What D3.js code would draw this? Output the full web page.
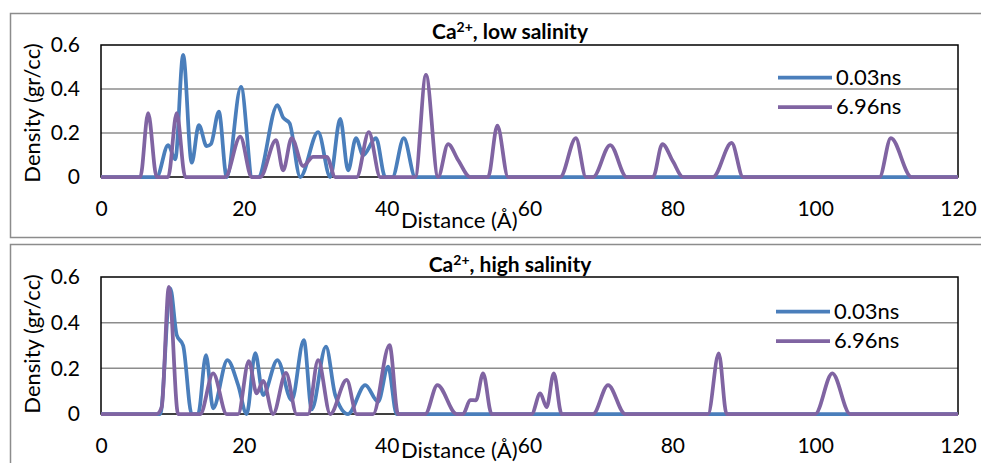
<!DOCTYPE html>
<html>
<head>
<meta charset="utf-8">
<script src="https://cdn.jsdelivr.net/npm/d3@7"></script>
<style>
  body { margin: 0; background: #fff; }
  svg { display: block; }
  text { font-family: Lato, "Open Sans", sans-serif; fill: #000; }
</style>
</head>
<body>
<svg id="chart" width="981" height="463"></svg>
<script>
// density profiles, [distance (A), density (gr/cc)]
var seriesNames = ["0.03ns", "6.96ns"];
var xTicks = [0, 20, 40, 60, 80, 100, 120];
var yTicks = [0, 0.2, 0.4, 0.6];

var lowEarly = [[0,0],[7.8,0],[9.4,0.145],[10.4,0.08],[11.5,0.555],[12.7,0.065],[13.7,0.236],[14.8,0.14],[15.4,0.15],
  [16.5,0.297],[17.6,0],[19.6,0.41],[21.2,0],[22.0,0],[24.7,0.327],[25.5,0.27],[26.4,0.245],[27.9,0],[30.4,0.204],
  [32.1,0],[33.5,0.264],[34.6,0.03],[35.7,0.177],[36.7,0.1],[38.5,0.177],[39.8,0],[40.8,0],[42.4,0.177],[44,0],[120,0]];

var lowLate = [[0,0],[5.5,0],[6.6,0.29],[7.8,0],[9.4,0],[10.6,0.29],[11.8,0],[17.4,0],[19.5,0.183],[21.1,0],[22.3,0],
  [24.5,0.168],[25.5,0.03],[26.7,0.177],[28.3,0.05],[29.7,0.092],[31.6,0.092],[32.8,0],[35.8,0],[37.5,0.204],[39.1,0],
  [44,0],[45.5,0.464],[47.2,0],[48.6,0.15],[50.0,0.077],[51.7,0],[54.2,0],[55.5,0.233],[57,0],[64.3,0],[66.5,0.177],
  [67.9,0],[68.9,0],[71.3,0.145],[73.6,0],[77.3,0],[78.6,0.15],[80.1,0.07],[81.5,0],[85.7,0],[88.3,0.155],[89.9,0],
  [109,0],[110.6,0.177],[113.5,0],[120,0]];

var highEarly = [[0,0],[8.3,0],[9.7,0.55],[10.6,0.346],[11.5,0.3],[12.7,0],[13.6,0],[14.7,0.258],[15.7,0.025],
  [17.7,0.236],[19.2,0.127],[20.4,0],[21.6,0.267],[22.7,0.083],[24.7,0.236],[26.7,0.06],[28.4,0.324],[29.5,0.02],
  [31.5,0.295],[32.8,0.083],[34.6,0],[37,0.127],[38.8,0.054],[40.2,0.207],[41.4,0],[120,0]];

var highLate = [[0,0],[7.8,0],[8.5,0.03],[9.5,0.557],[10.8,0],[13.9,0],[15.7,0.178],[17.6,0],[19.2,0],[20.7,0.232],
  [21.8,0.09],[22.7,0.145],[24.1,0],[25.9,0.18],[27.4,0],[29,0],[30.4,0.236],[32.1,0],[34.4,0.149],[35.8,0],[38.1,0],
  [40.4,0.302],[41.6,0],[45.4,0],[47.1,0.127],[49.8,0],[50.7,0],[51.7,0.061],[52.5,0.06],[53.5,0.178],[54.7,0],
  [60.3,0],[61.5,0.09],[62.4,0.03],[63.4,0.178],[64.5,0],[68.9,0],[71.0,0.127],[73.4,0],[85,0],[86.5,0.266],[87.6,0],
  [100,0],[102.4,0.178],[104.9,0],[120,0]];

var colors = ["#4a7ebb", "#8064a2"];

var svg = d3.select("#chart");

var panels = [
  {label: "low salinity", data: [lowEarly, lowLate], frameY: 13.5, frameH: 224, top: 45, bottom: 177, legendY: 77.5, legendX: 778, titleY: 39, xTitleY: 227.5, yTitleY: 113},
  {label: "high salinity", data: [highEarly, highLate], frameY: 244.5, frameH: 260, top: 277, bottom: 414, legendY: 311.5, legendX: 776, titleY: 272, xTitleY: 458, yTitleY: 344}
];

var left = 101, right = 958;

panels.forEach(function(p){
  var g = svg.append("g");

  g.append("rect")
    .attr("x", 10.5).attr("y", p.frameY)
    .attr("width", 1000).attr("height", p.frameH)
    .attr("fill", "#fff").attr("stroke", "#8c8c8c").attr("stroke-width", 1.5);

  var x = d3.scaleLinear().domain([0, 120]).range([left, right]);
  var y = d3.scaleLinear().domain([0, 0.6]).range([p.bottom, p.top]);

  // gridlines
  g.selectAll(".grid").data([0.2, 0.4]).enter().append("line")
    .attr("x1", left).attr("x2", right)
    .attr("y1", function(d){ return y(d); })
    .attr("y2", function(d){ return y(d); })
    .attr("stroke", "#8c8c8c").attr("stroke-width", 1.5);

  // plot frame
  g.append("rect")
    .attr("x", left).attr("y", p.top)
    .attr("width", right - left).attr("height", p.bottom - p.top)
    .attr("fill", "none").attr("stroke", "#000").attr("stroke-width", 1.5);

  var yAxis = d3.axisLeft(y).tickValues(yTicks).tickSize(0).tickPadding(21)
    .tickFormat(function(d){ return d === 0 ? "0" : d3.format(".1f")(d); });
  var gy = g.append("g").attr("transform", "translate(" + left + ",0)").call(yAxis);
  gy.select(".domain").remove();
  gy.selectAll("text").style("font-family", "Lato, sans-serif").style("font-size", "21px").attr("fill", "#000");

  var xAxis = d3.axisBottom(x).tickValues(xTicks).tickSize(0).tickPadding(24);
  var gx = g.append("g").attr("transform", "translate(0," + p.bottom + ")").call(xAxis);
  gx.select(".domain").remove();
  gx.selectAll("text").style("font-family", "Lato, sans-serif").style("font-size", "21px").attr("fill", "#000");

  var line = d3.line()
    .x(function(d){ return x(d[0]); })
    .y(function(d){ return y(d[1]); })
    .curve(d3.curveMonotoneX);

  p.data.forEach(function(s, i){
    g.append("path")
      .datum(s)
      .attr("d", line)
      .attr("fill", "none")
      .attr("stroke", colors[i])
      .attr("stroke-width", 3.75)
      .attr("stroke-linejoin", "round");
  });

  // title
  var t = g.append("text")
    .attr("x", 510).attr("y", p.titleY)
    .attr("text-anchor", "middle")
    .style("font-size", "21px").style("font-weight", "bold");
  t.append("tspan").text("Ca");
  t.append("tspan").attr("dy", -7).style("font-size", "14px").text("2+");
  t.append("tspan").attr("dy", 7).text(", " + p.label);

  // axis titles
  g.append("text")
    .attr("x", 401).attr("y", p.xTitleY)
    .style("font-size", "22px")
    .text("Distance (Å)");

  g.append("text")
    .attr("transform", "translate(40," + p.yTitleY + ") rotate(-90)")
    .attr("text-anchor", "middle")
    .style("font-size", "22px")
    .text("Density (gr/cc)");

  // legend
  seriesNames.forEach(function(name, i){
    var ly = p.legendY + i * 29.5;
    g.append("line")
      .attr("x1", p.legendX).attr("x2", p.legendX + 54)
      .attr("y1", ly).attr("y2", ly)
      .attr("stroke", colors[i]).attr("stroke-width", 3.75);
    g.append("text")
      .attr("x", p.legendX + 58).attr("y", ly + 7)
      .style("font-size", "22px")
      .text(name);
  });
});
</script>
</body>
</html>
